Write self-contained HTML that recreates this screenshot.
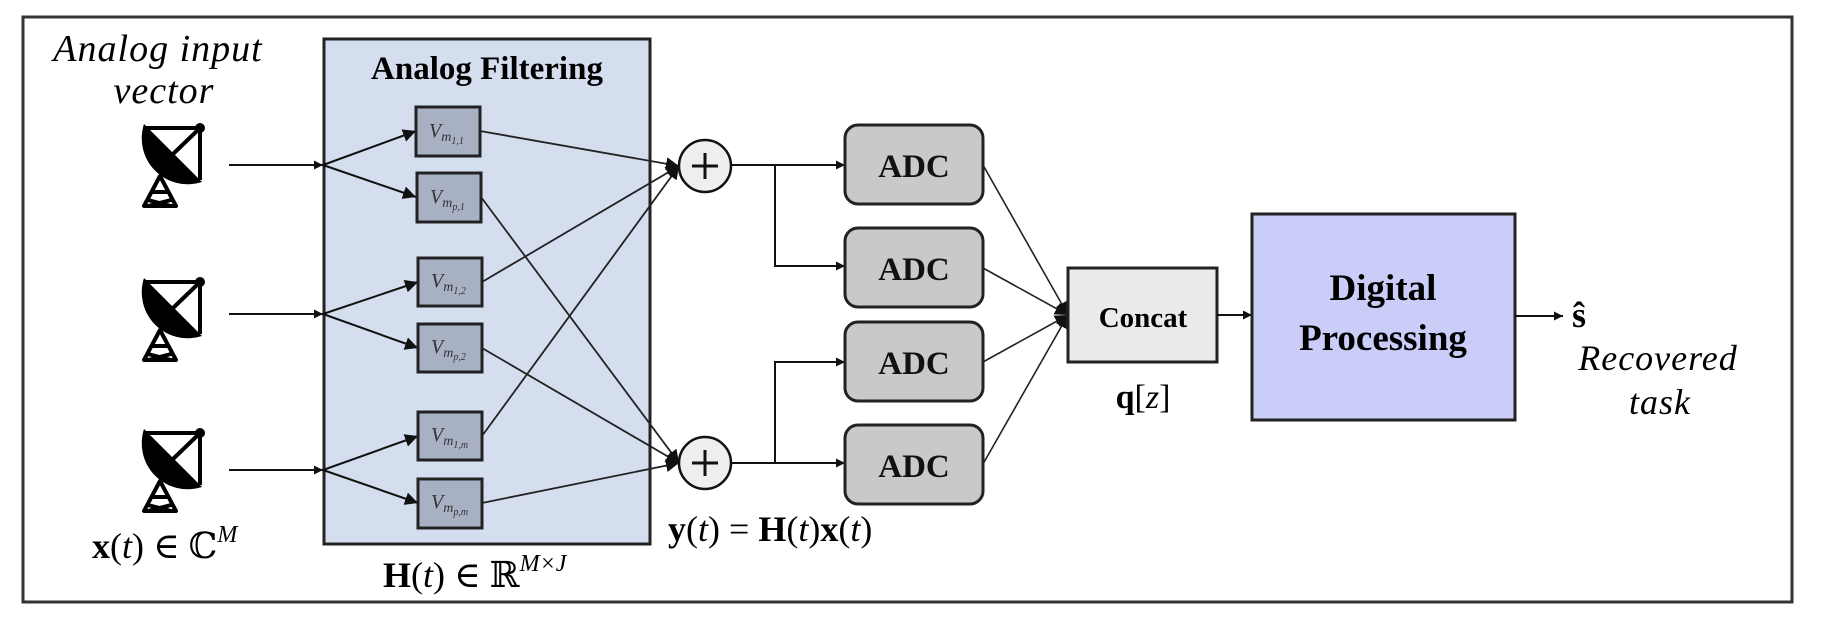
<!DOCTYPE html>
<html><head><meta charset="utf-8"><style>
html,body{margin:0;padding:0;background:#fff;}
svg{display:block;}
.s{font-family:"Liberation Serif","DejaVu Serif",serif;}
</style></head><body>
<svg width="1833" height="625" viewBox="0 0 1833 625" xmlns="http://www.w3.org/2000/svg" class="s">
<defs>
<marker id="ar" viewBox="0 0 10 10" refX="10" refY="5" markerWidth="9" markerHeight="9" markerUnits="userSpaceOnUse" orient="auto">
<path d="M0,0 L10,5 L0,10 Z" fill="#111"/></marker>
<marker id="ar2" viewBox="0 0 10 10" refX="10" refY="5" markerWidth="13" markerHeight="13" markerUnits="userSpaceOnUse" orient="auto">
<path d="M0,0 L10,5 L0,10 Z" fill="#111"/></marker>
<g id="ant">
<path d="M22,54 L6,84 L38,84 Z M14,70 L30,70 M10,78 L33,84 M33,78 L10,84" stroke="#000" stroke-width="4" fill="none" stroke-linejoin="round"/>
<path d="M6,2 L64,60 A46 46 0 0 1 6,2 Z" fill="#000"/>
<path d="M8,6 L62,6 L62,58 M34,33 L62,6" stroke="#000" stroke-width="4" fill="none"/>
<circle cx="62" cy="6" r="5" fill="#000"/>
</g>
</defs>

<rect x="23" y="17" width="1769" height="585" fill="none" stroke="#333" stroke-width="3"/>

<text x="158" y="61" font-size="38" font-style="italic" text-anchor="middle" letter-spacing="1">Analog input</text>
<text x="164" y="103" font-size="38" font-style="italic" text-anchor="middle" letter-spacing="1">vector</text>

<use href="#ant" x="138" y="122"/>
<use href="#ant" x="138" y="276"/>
<use href="#ant" x="138" y="427"/>

<rect x="324" y="39" width="326" height="505" fill="#d5deee" stroke="#222" stroke-width="3"/>
<text x="487" y="79" font-size="33" font-weight="bold" text-anchor="middle">Analog Filtering</text>

<g stroke="#111" stroke-width="2" fill="none">
<line x1="229" y1="165" x2="323" y2="165" marker-end="url(#ar)"/>
<line x1="229" y1="314" x2="323" y2="314" marker-end="url(#ar)"/>
<line x1="229" y1="470" x2="323" y2="470" marker-end="url(#ar)"/>
<line x1="323" y1="165" x2="416" y2="131" marker-end="url(#ar2)"/>
<line x1="323" y1="165" x2="416" y2="197" marker-end="url(#ar2)"/>
<line x1="323" y1="314" x2="418" y2="282" marker-end="url(#ar2)"/>
<line x1="323" y1="314" x2="418" y2="348" marker-end="url(#ar2)"/>
<line x1="323" y1="470" x2="418" y2="436" marker-end="url(#ar2)"/>
<line x1="323" y1="470" x2="418" y2="503" marker-end="url(#ar2)"/>
</g>

<g fill="#a8b1c4" stroke="#222" stroke-width="3">
<rect x="416" y="107" width="64" height="49"/>
<rect x="417" y="173" width="64" height="49"/>
<rect x="418" y="258" width="64" height="48"/>
<rect x="418" y="324" width="64" height="48"/>
<rect x="418" y="412" width="64" height="48"/>
<rect x="418" y="479" width="64" height="49"/>
</g>
<g font-size="20" font-style="italic" fill="#333">
<text x="429" y="137">V<tspan font-size="14" dy="4">m</tspan><tspan font-size="10" dy="3">1,1</tspan></text>
<text x="430" y="203">V<tspan font-size="14" dy="4">m</tspan><tspan font-size="10" dy="3">p,1</tspan></text>
<text x="431" y="287">V<tspan font-size="14" dy="4">m</tspan><tspan font-size="10" dy="3">1,2</tspan></text>
<text x="431" y="353">V<tspan font-size="14" dy="4">m</tspan><tspan font-size="10" dy="3">p,2</tspan></text>
<text x="431" y="441">V<tspan font-size="14" dy="4">m</tspan><tspan font-size="10" dy="3">1,m</tspan></text>
<text x="431" y="508">V<tspan font-size="14" dy="4">m</tspan><tspan font-size="10" dy="3">p,m</tspan></text>
</g>

<g stroke="#222" stroke-width="1.8" fill="none">
<line x1="480" y1="131" x2="679" y2="166" marker-end="url(#ar2)"/>
<line x1="482" y1="282" x2="679" y2="166" marker-end="url(#ar2)"/>
<line x1="482" y1="436" x2="679" y2="166" marker-end="url(#ar2)"/>
<line x1="481" y1="197" x2="679" y2="463" marker-end="url(#ar2)"/>
<line x1="482" y1="348" x2="679" y2="463" marker-end="url(#ar2)"/>
<line x1="482" y1="503" x2="679" y2="463" marker-end="url(#ar2)"/>
</g>

<g fill="#eeeeee" stroke="#111" stroke-width="2.5">
<circle cx="705" cy="166" r="26"/>
<circle cx="705" cy="463" r="26"/>
</g>
<g stroke="#111" stroke-width="3">
<line x1="692" y1="166" x2="718" y2="166"/><line x1="705" y1="153" x2="705" y2="179"/>
<line x1="692" y1="463" x2="718" y2="463"/><line x1="705" y1="450" x2="705" y2="476"/>
</g>

<g stroke="#111" stroke-width="2" fill="none">
<line x1="731" y1="165" x2="845" y2="165" marker-end="url(#ar)"/>
<polyline points="775,165 775,266 845,266" marker-end="url(#ar)"/>
<line x1="731" y1="463" x2="845" y2="463" marker-end="url(#ar)"/>
<polyline points="775,463 775,362 845,362" marker-end="url(#ar)"/>
</g>

<g fill="#c9c9c9" stroke="#222" stroke-width="3">
<rect x="845" y="125" width="138" height="79" rx="13"/>
<rect x="845" y="228" width="138" height="79" rx="13"/>
<rect x="845" y="322" width="138" height="79" rx="13"/>
<rect x="845" y="425" width="138" height="79" rx="13"/>
</g>
<g font-size="33" font-weight="bold" text-anchor="middle" fill="#111">
<text x="914" y="177">ADC</text>
<text x="914" y="280">ADC</text>
<text x="914" y="374">ADC</text>
<text x="914" y="477">ADC</text>
</g>

<g stroke="#222" stroke-width="1.6" fill="none">
<line x1="983" y1="165" x2="1068" y2="315" marker-end="url(#ar2)"/>
<line x1="983" y1="268" x2="1068" y2="315" marker-end="url(#ar2)"/>
<line x1="983" y1="362" x2="1068" y2="315" marker-end="url(#ar2)"/>
<line x1="983" y1="464" x2="1068" y2="315" marker-end="url(#ar2)"/>
</g>

<rect x="1068" y="268" width="149" height="94" fill="#ebebeb" stroke="#222" stroke-width="3"/>
<text x="1143" y="327" font-size="29" font-weight="bold" text-anchor="middle">Concat</text>
<text x="1143" y="408" font-size="34" text-anchor="middle"><tspan font-weight="bold">q</tspan>[<tspan font-style="italic">z</tspan>]</text>

<line x1="1217" y1="315" x2="1252" y2="315" stroke="#111" stroke-width="2" marker-end="url(#ar)"/>

<rect x="1252" y="214" width="263" height="206" fill="#c9cdf8" stroke="#222" stroke-width="3"/>
<text x="1383" y="300" font-size="37" font-weight="bold" text-anchor="middle">Digital</text>
<text x="1383" y="350" font-size="37" font-weight="bold" text-anchor="middle">Processing</text>

<line x1="1515" y1="316" x2="1563" y2="316" stroke="#111" stroke-width="2" marker-end="url(#ar)"/>
<text x="1572" y="327" font-size="36" font-weight="bold">ŝ</text>
<text x="1658" y="370" font-size="36" font-style="italic" text-anchor="middle" letter-spacing="1">Recovered</text>
<text x="1660" y="414" font-size="36" font-style="italic" text-anchor="middle" letter-spacing="1">task</text>

<text x="92" y="558" font-size="36"><tspan font-weight="bold">x</tspan>(<tspan font-style="italic">t</tspan>) ∈ ℂ<tspan font-size="24" font-style="italic" dy="-16">M</tspan></text>
<text x="383" y="587" font-size="36"><tspan font-weight="bold">H</tspan>(<tspan font-style="italic">t</tspan>) ∈ ℝ<tspan font-size="24" font-style="italic" dy="-16">M×J</tspan></text>
<text x="668" y="541" font-size="36"><tspan font-weight="bold">y</tspan>(<tspan font-style="italic">t</tspan>) = <tspan font-weight="bold">H</tspan>(<tspan font-style="italic">t</tspan>)<tspan font-weight="bold">x</tspan>(<tspan font-style="italic">t</tspan>)</text>
</svg>
</body></html>
